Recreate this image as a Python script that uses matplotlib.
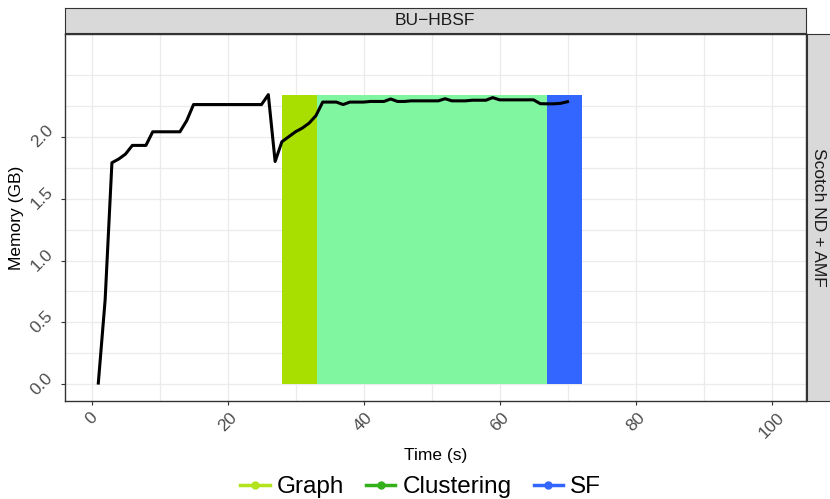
import numpy as np
import matplotlib.pyplot as plt
from matplotlib.lines import Line2D

plt.rcParams['font.family'] = ['Liberation Sans', 'DejaVu Sans']

# memory trace (one sample per second)
time_s = list(range(1, 71))
memory_gb = [0.01, 0.68, 1.79, 1.82, 1.86, 1.93, 1.93, 1.93, 2.04, 2.04,
             2.04, 2.04, 2.04, 2.13, 2.26, 2.26, 2.26, 2.26, 2.26, 2.26,
             2.26, 2.26, 2.26, 2.26, 2.26, 2.34, 1.80, 1.96, 2.00, 2.04,
             2.07, 2.11, 2.17, 2.28, 2.28, 2.28, 2.26, 2.28, 2.28, 2.28,
             2.285, 2.285, 2.285, 2.305, 2.285, 2.285, 2.29, 2.29, 2.29, 2.29,
             2.29, 2.307, 2.29, 2.29, 2.29, 2.295, 2.295, 2.295, 2.316, 2.298,
             2.298, 2.298, 2.298, 2.298, 2.298, 2.267, 2.266, 2.266, 2.27, 2.283]

# phases
phases = ["Graph", "Clustering", "SF"]
phase_start = [28.0, 33.1, 67.0]
phase_end = [33.1, 67.0, 72.1]
rect_colors = ["#a8df00", "#80f6a0", "#3366ff"]
legend_colors = ["#b3e31c", "#33b01a", "#3366ff"]

fig = plt.figure(figsize=(8.3, 4.99), dpi=100)
W, H = 830, 499
ax = fig.add_axes([65 / W, (H - 401) / H, 740.5 / W, 367 / H])

ax.set_xlim(-3.9, 105)
ax.set_ylim(-0.135, 2.83)

top = max(memory_gb)
for s, e, c in zip(phase_start, phase_end, rect_colors):
    ax.fill_between([s, e], 0, top, color=c, lw=0, zorder=2)

ax.plot(time_s, memory_gb, color="black", lw=2.2, zorder=3)

ax.set_xticks(np.arange(0, 101, 20))
ax.set_xticks(np.arange(10, 101, 20), minor=True)
ax.set_yticks(np.arange(0, 2.01, 0.5))
ax.set_yticks([0.25, 0.75, 1.25, 1.75, 2.25, 2.5], minor=True)
ax.grid(True, which="both", color="#ebebeb", lw=0.9, zorder=0)
ax.set_axisbelow(True)
ax.tick_params(which="minor", length=0)
ax.tick_params(which="major", length=3, color="#333333", labelcolor="#4d4d4d",
               labelsize=12.5)
ax.set_yticklabels(["0.0", "0.5", "1.0", "1.5", "2.0"], rotation=45,
                   ha="right", va="center")
ax.set_xticklabels([str(v) for v in range(0, 101, 20)], rotation=45,
                   ha="center", va="top")
for sp in ax.spines.values():
    sp.set_color("#333333")
    sp.set_linewidth(1.0)

ax.set_xlabel("Time (s)", fontsize=12.5, color="black", labelpad=5)
ax.set_ylabel("Memory (GB)", fontsize=12.5, color="black", labelpad=3)

# facet strips
strip_top = fig.add_axes([65 / W, (H - 33) / H, 740.5 / W, 25 / H])
strip_top.set_facecolor("#d9d9d9")
strip_top.set_xticks([])
strip_top.set_yticks([])
strip_top.text(0.5, 0.5, "BU\u2212HBSF", ha="center", va="center",
               fontsize=12.5, color="#1a1a1a", transform=strip_top.transAxes)

strip_right = fig.add_axes([807 / W, (H - 401) / H, 26 / W, 367 / H])
strip_right.set_facecolor("#d9d9d9")
strip_right.set_xticks([])
strip_right.set_yticks([])
strip_right.text(0.45, 0.5, "Scotch ND + AMF", ha="center", va="center",
                 rotation=-90, fontsize=12.5, color="#1a1a1a",
                 transform=strip_right.transAxes)
for s in [strip_top, strip_right]:
    for sp in s.spines.values():
        sp.set_color("#333333")

handles = [Line2D([0], [0], color=c, lw=2.5, marker="o", markersize=5)
           for c in legend_colors]
fig.legend(handles, phases, loc="lower center", bbox_to_anchor=(0.507, -0.042),
           ncol=3, frameon=False, fontsize=17.5, handlelength=1.2,
           handletextpad=0.3, columnspacing=0.9)

plt.savefig("out.png", dpi=100)
